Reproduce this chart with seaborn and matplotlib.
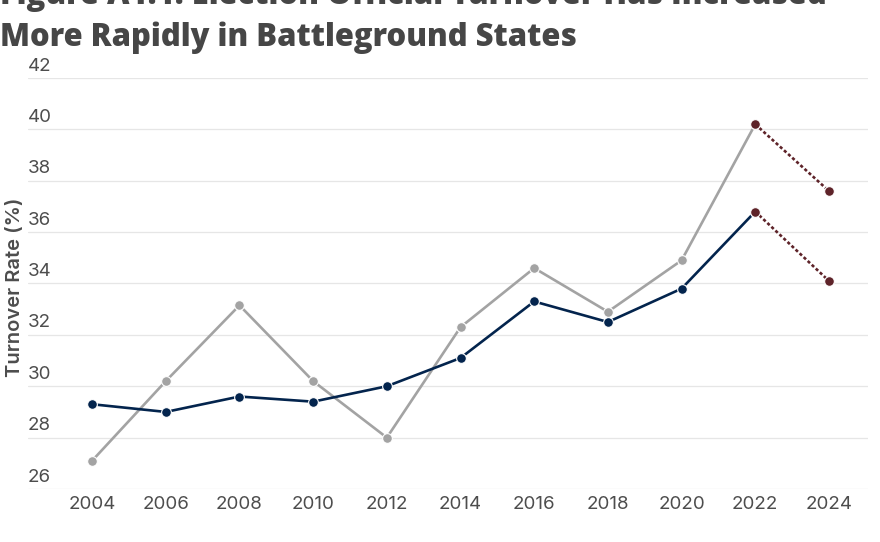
import matplotlib
matplotlib.use("Agg")
import matplotlib.pyplot as plt
import seaborn as sns
import pandas as pd

years = [2004, 2006, 2008, 2010, 2012, 2014, 2016, 2018, 2020, 2022]
battleground = [27.1, 30.2, 33.15, 30.2, 28.0, 32.3, 34.6, 32.9, 34.9, 40.2]
non_battleground = [29.3, 29.0, 29.6, 29.4, 30.0, 31.1, 33.3, 32.5, 33.8, 36.8]
proj_years = [2022, 2024]
battleground_proj = [40.2, 37.6]
non_battleground_proj = [36.8, 34.1]
x_ticks = [2004, 2006, 2008, 2010, 2012, 2014, 2016, 2018, 2020, 2022, 2024]
y_ticks = [26, 28, 30, 32, 34, 36, 38, 40, 42]

title_1 = "Figure A1.1: Election Official Turnover Has Increased"
title_2 = "More Rapidly in Battleground States"
y_label = "Turnover Rate (%)"

sns.set_theme(style="white")
plt.rcParams['font.family'] = ['Inter', 'DejaVu Sans']

GRAY = "#a3a3a3"
NAVY = "#03244d"
MAROON = "#5e2329"
TEXT = "#4d4d4d"

fig = plt.figure(figsize=(8.8, 5.42), dpi=100)
ax = fig.add_axes([28 / 880, 1 - 489 / 542, 840 / 880, (489 - 78) / 542])

df_b = pd.DataFrame({"year": years, "rate": battleground})
df_n = pd.DataFrame({"year": years, "rate": non_battleground})
df_bp = pd.DataFrame({"year": proj_years, "rate": battleground_proj})
df_np = pd.DataFrame({"year": proj_years, "rate": non_battleground_proj})

common = dict(marker="o", markersize=7, markeredgecolor="white", markeredgewidth=0.8, linewidth=1.9)
sns.lineplot(data=df_b, x="year", y="rate", color=GRAY, ax=ax, zorder=3, **common)
sns.lineplot(data=df_n, x="year", y="rate", color=NAVY, ax=ax, zorder=4, **common)
for d in (df_bp, df_np):
    sns.lineplot(data=d, x="year", y="rate", color=MAROON, ax=ax, zorder=5,
                 linestyle=(0, (1.2, 0.9)), **common)

ax.set_xlim(2002.26, 2025.06)
ax.set_ylim(26, 42)
ax.set_xticks(x_ticks)
ax.set_xticklabels([str(t) for t in x_ticks])
ax.set_yticks(y_ticks)
ax.set_yticklabels([])
ax.tick_params(axis="y", length=0)
ax.tick_params(axis="x", length=0, pad=5, labelsize=13.5, labelcolor=TEXT)
for t in y_ticks:
    ax.annotate(str(t), xy=(0.0, t), xycoords=ax.get_yaxis_transform(),
                xytext=(0, 2.5), textcoords="offset points", ha="left", va="bottom",
                fontsize=13.5, color=TEXT, annotation_clip=False)
    ax.axhline(t, color="#e6e6e6", linewidth=0.9, zorder=1)
for s in ax.spines.values():
    s.set_visible(False)
ax.grid(False)
ax.set_xlabel("")
ax.set_ylabel(y_label, fontsize=14.5, color=TEXT, fontweight="semibold")
ax.yaxis.label.set_va("center")
ax.yaxis.set_label_coords(-0.0155, 0.49)

for txt, ypx in ((title_1, 4), (title_2, 46)):
    fig.text(0.0, 1 - ypx / 542, txt, ha="left", va="baseline", fontsize=22.3,
             fontweight="heavy", color="#464646", family=["Open Sans", "DejaVu Sans"])

fig.savefig("out.png", dpi=100)
